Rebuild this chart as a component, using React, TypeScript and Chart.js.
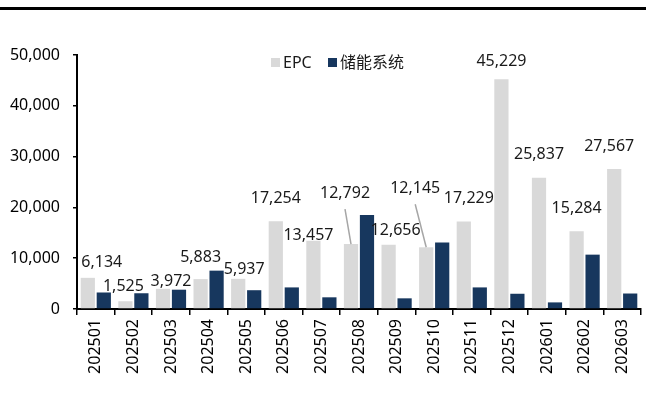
import React, { useEffect, useRef } from "react";
import { Chart, registerables } from "chart.js";

Chart.register(...registerables);

const categories = [
  "202501", "202502", "202503", "202504", "202505", "202506", "202507", "202508",
  "202509", "202510", "202511", "202512", "202601", "202602", "202603",
];
const seriesNames = ["EPC", "储能系统"];
const epcValues = [6134, 1525, 3972, 5883, 5937, 17254, 13457, 12792, 12656, 12145, 17229, 45229, 25837, 15284, 27567];
const storageValues = [3250, 3100, 3800, 7550, 3700, 4250, 2300, 18500, 2100, 13100, 4250, 3000, 1300, 10700, 3050];
const yTicks = [0, 10000, 20000, 30000, 40000, 50000];

// label nudges (dx, dy) relative to the default spot above each EPC bar
const labelOffsets: [number, number][] = [
  [14, 8], [-2, 8], [8, 16], [0, 1], [6, 14], [0, 0], [-5, 18], [-6, -28],
  [7, 9], [-11, -36], [5, 0], [0, 5], [0, 0], [0, 0], [-5, 0],
];
const leaderIdx = [7, 9];

const FONT = '"Noto Sans", "Noto Sans CJK SC", sans-serif';
const GRAY = "#D9D9D9";
const NAVY = "#17375E";

export default function App() {
  const ref = useRef<HTMLCanvasElement | null>(null);

  useEffect(() => {
    if (!ref.current) return;

    const decor = {
      id: "decor",
      beforeDraw(chart: any) {
        const ctx = chart.ctx;
        ctx.save();
        ctx.fillStyle = "#ffffff";
        ctx.fillRect(0, 0, chart.width, chart.height);
        ctx.fillStyle = "#000000";
        ctx.fillRect(0, 7, chart.width, 3);
        ctx.restore();
      },
      afterDatasetsDraw(chart: any) {
        const ctx = chart.ctx;
        ctx.save();
        // data labels on EPC bars
        const meta = chart.getDatasetMeta(0);
        ctx.font = `16px ${FONT}`;
        ctx.textAlign = "center";
        ctx.textBaseline = "middle";
        meta.data.forEach((el: any, i: number) => {
          const [dx, dy] = labelOffsets[i] || [0, 0];
          const lx = el.x + dx;
          const ly = el.y - 23 + dy;
          if (leaderIdx.includes(i)) {
            ctx.strokeStyle = "#A6A6A6";
            ctx.lineWidth = 1.5;
            ctx.beginPath();
            ctx.moveTo(lx, ly + 16);
            ctx.lineTo(el.x, el.y);
            ctx.stroke();
          }
          ctx.fillStyle = "#1a1a1a";
          ctx.fillText(epcValues[i].toLocaleString("en-US"), lx, ly);
        });
        // legend
        const ds = chart.data.datasets;
        const items = [
          { box: 271, text: 283 },
          { box: 328, text: 340 },
        ];
        ctx.textAlign = "left";
        items.forEach((it, k) => {
          ctx.fillStyle = ds[k].backgroundColor;
          ctx.fillRect(it.box, 58, 9, 9);
          ctx.fillStyle = "#1a1a1a";
          ctx.fillText(ds[k].label, it.text, 63);
        });
        ctx.restore();
      },
    };

    const chart = new Chart(ref.current, {
      type: "bar",
      data: {
        labels: categories,
        datasets: [
          { label: seriesNames[0], data: epcValues, backgroundColor: GRAY, categoryPercentage: 0.85, barPercentage: 0.89 },
          { label: seriesNames[1], data: storageValues, backgroundColor: NAVY, categoryPercentage: 0.85, barPercentage: 0.89 },
        ],
      },
      options: {
        responsive: false,
        animation: false,
        devicePixelRatio: 1,
        layout: { padding: { top: 55, right: 5, bottom: 0, left: 0 } },
        plugins: { legend: { display: false }, tooltip: { enabled: false } },
        scales: {
          x: {
            grid: {
              offset: true,
              drawOnChartArea: false,
              drawTicks: true,
              tickLength: 6,
              color: "#000",
              lineWidth: 1.5,
            },
            border: { display: true, color: "#000", width: 2 },
            ticks: {
              color: "#000",
              font: { family: FONT, size: 16 },
              minRotation: 90,
              maxRotation: 90,
              padding: 4,
              autoSkip: false,
            },
            afterFit(scale: any) {
              scale.height = 92;
            },
          },
          y: {
            min: 0,
            max: 50000,
            afterBuildTicks(scale: any) {
              scale.ticks = yTicks.map((v) => ({ value: v }));
            },
            grid: {
              drawOnChartArea: false,
              drawTicks: true,
              tickLength: 4,
              color: "#000",
              lineWidth: 1.5,
            },
            border: { display: true, color: "#000", width: 2 },
            ticks: {
              color: "#000",
              font: { family: FONT, size: 16 },
              padding: 13,
              callback: (v: any) => Number(v).toLocaleString("en-US"),
            },
            afterFit(scale: any) {
              scale.width = 77;
            },
          },
        },
      },
      plugins: [decor],
    });

    return () => chart.destroy();
  }, []);

  return (
    <div style={{ position: "fixed", left: 0, top: 0, width: 646, height: 401, background: "#fff" }}>
      <canvas ref={ref} width={646} height={401} style={{ display: "block" }} />
    </div>
  );
}
